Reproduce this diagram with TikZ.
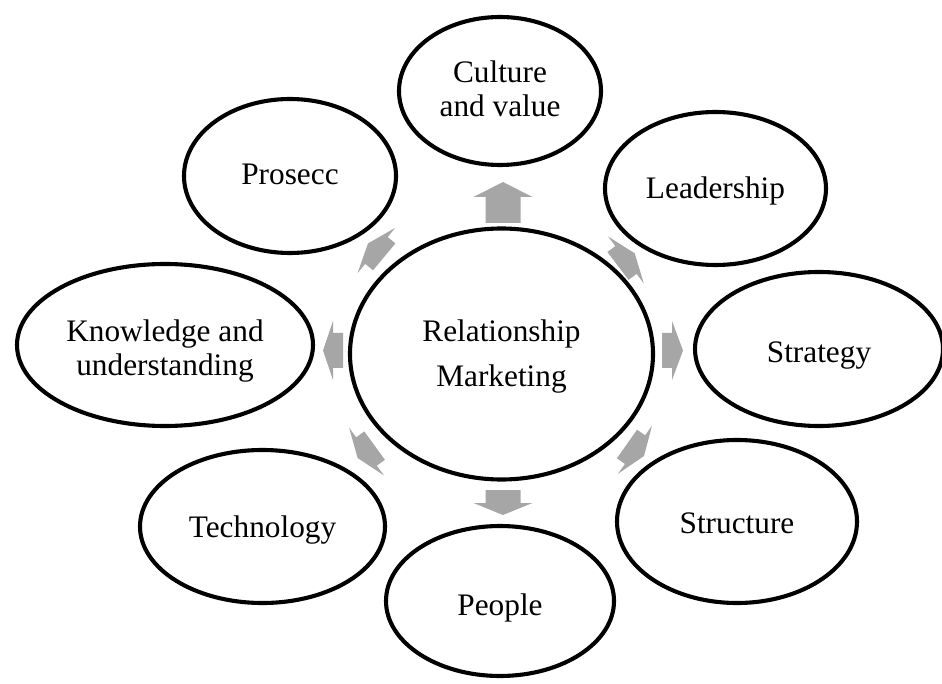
\documentclass[tikz,border=0pt]{standalone}
\usepackage{fontspec}
\setmainfont{Liberation Serif}
\usetikzlibrary{shapes.geometric,calc}
\definecolor{arrowgray}{HTML}{A6A6A6}
\newcommand\txtfont{\fontsize{31.3}{33.5}\selectfont}
\newcommand\lines[1]{\begin{tabular}[b]{@{}c@{}}#1\end{tabular}}
\pgfdeclarelayer{bg}
\pgfsetlayers{bg,main}
\newcommand\barrow[3]{%
  \coordinate (hb) at ($(#2)!#3!(#1)$);
  \fill[arrowgray]
    ($(#1)!17.5pt!90:(#2)$) -- ($(hb)!17.5pt!90:(#2)$) --
    ($(hb)!29.5pt!90:(#2)$) -- (#2) --
    ($(hb)!29.5pt!-90:(#2)$) -- ($(hb)!17.5pt!-90:(#2)$) --
    ($(#1)!17.5pt!-90:(#2)$) -- cycle;}
\tikzset{
  sat/.style={ellipse, draw, line width=4.1pt, inner sep=0pt, font=\txtfont, text=black, text depth=0pt},
  shd/.style={font=\txtfont, text=black!30, inner sep=0pt, text depth=0pt}
}
\begin{document}
\begin{tikzpicture}[x=1pt,y=-1pt]
\useasboundingbox (0,0) rectangle (942,684);
\fill[white] (0,0) rectangle (942,684);
% nodes
\node[sat, text height=64pt, minimum width=303pt, minimum height=251pt] (rm) at (501.5,354) {\lines{Relationship\\[11.5pt]Marketing}};
\node[sat, text height=51pt, minimum width=202pt, minimum height=148pt] (cul) at (500,91) {\lines{Culture\\and value}};
\node[sat, text height=21pt, minimum width=221pt, minimum height=153pt] (lead) at (715.5,188.5) {Leadership};
\node[sat, text height=27pt, minimum width=248pt, minimum height=154pt] (strat) at (819,349) {Strategy};
\node[sat, text height=23pt, minimum width=240pt, minimum height=163pt] (struc) at (737,521.5) {Structure};
\node[sat, text height=28pt, minimum width=228pt, minimum height=150pt] (peop) at (500,601) {People};
\node[sat, text height=22pt, minimum width=245pt, minimum height=153pt] (tech) at (262.5,526.5) {Technology};
\node[sat, text height=61pt, minimum width=296pt, minimum height=162pt] (know) at (165,345) {\lines{Knowledge and\\understanding}};
\node[sat, text height=17pt, minimum width=212pt, minimum height=154pt] (pros) at (290,176) {Prosecc};
% text shadows
\begin{pgfonlayer}{bg}
\node[shd, text height=64pt] (srm) at ([shift={(1.3,1.3)}]rm.center) {\lines{Relationship\\[11.5pt]Marketing}};
\node[shd, text height=51pt] (scul) at ([shift={(1.3,1.3)}]cul.center) {\lines{Culture\\and value}};
\node[shd, text height=21pt] (slead) at ([shift={(1.3,1.3)}]lead.center) {Leadership};
\node[shd, text height=27pt] (sstrat) at ([shift={(1.3,1.3)}]strat.center) {Strategy};
\node[shd, text height=23pt] (sstruc) at ([shift={(1.3,1.3)}]struc.center) {Structure};
\node[shd, text height=28pt] (speop) at ([shift={(1.3,1.3)}]peop.center) {People};
\node[shd, text height=22pt] (stech) at ([shift={(1.3,1.3)}]tech.center) {Technology};
\node[shd, text height=61pt] (sknow) at ([shift={(1.3,1.3)}]know.center) {\lines{Knowledge and\\understanding}};
\node[shd, text height=17pt] (spros) at ([shift={(1.3,1.3)}]pros.center) {Prosecc};
\end{pgfonlayer}
% arrow end points
\coordinate (a1t) at (503,223);   \coordinate (a1h) at (503,182);
\coordinate (a2t) at (503,490);   \coordinate (a2h) at (503,515);
\coordinate (a3t) at (662,350.5); \coordinate (a3h) at (683,350.5);
\coordinate (a4t) at (343,350.5); \coordinate (a4h) at (323,350.5);
\coordinate (a5t) at (618,266);   \coordinate (a5h) at (634.7,253.3);
\coordinate (a6t) at (627,444);   \coordinate (a6h) at (644,456);
\coordinate (a7t) at (374.6,445.6); \coordinate (a7h) at (357.6,458);
\coordinate (a8t) at (384.2,256.9); \coordinate (a8h) at (368,243.4);
\barrow{a1t}{a1h}{15pt}
\barrow{a2t}{a2h}{12pt}
\barrow{a3t}{a3h}{11pt}
\barrow{a4t}{a4h}{10pt}
\barrow{a5t}{a5h}{11pt}
\barrow{a6t}{a6h}{11pt}
\barrow{a7t}{a7h}{11pt}
\barrow{a8t}{a8h}{11pt}
\end{tikzpicture}
\end{document}
